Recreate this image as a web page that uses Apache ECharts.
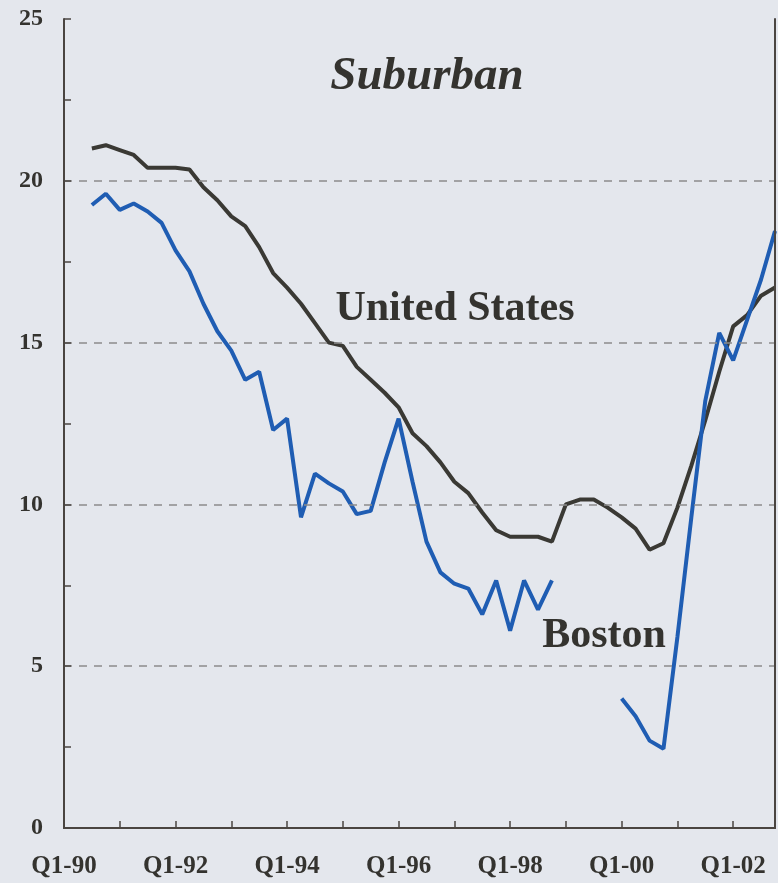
<!DOCTYPE html>
<html>
<head>
<meta charset="utf-8">
<script src="https://cdn.jsdelivr.net/npm/echarts@6/dist/echarts.min.js"></script>
<style>
  html, body { margin: 0; padding: 0; background: #e4e7ed; }
  #chart { width: 778px; height: 883px; }
</style>
</head>
<body>
<div id="chart"></div>
<script>
// quarters Q1-90 .. Q4-02
const quarters = [];
for (let y = 90; y <= 102; y++) {
  for (let q = 1; q <= 4; q++) {
    quarters.push('Q' + q + '-' + String(y % 100).padStart(2, '0'));
  }
}

// vacancy rate, suburban office (%)
const unitedStates = [
  null, null, 21.0, 21.1, 20.95, 20.8, 20.4, 20.4, 20.4, 20.35,
  19.8, 19.4, 18.9, 18.6, 17.95, 17.15, 16.7, 16.2, 15.6, 15.0,
  14.9, 14.25, 13.85, 13.45, 13.0, 12.2, 11.8, 11.3, 10.7, 10.35,
  9.75, 9.2, 9.0, 9.0, 9.0, 8.85, 10.0, 10.15, 10.15, 9.9,
  9.6, 9.25, 8.6, 8.8, 9.9, 11.2, 12.6, 14.1, 15.5, 15.85,
  16.45, 16.7
];
const boston = [
  null, null, 19.25, 19.6, 19.1, 19.3, 19.05, 18.7, 17.85, 17.2,
  16.2, 15.35, 14.75, 13.85, 14.1, 12.3, 12.65, 9.6, 10.95, 10.65,
  10.4, 9.7, 9.8, 11.3, 12.65, 10.7, 8.85, 7.9, 7.55, 7.4,
  6.6, 7.65, 6.1, 7.65, 6.75, 7.65, null, null, null, null,
  4.0, 3.45, 2.7, 2.45, 5.9, 9.6, 13.2, 15.3, 14.45, 15.7,
  16.95, 18.45
];

const yTicks = [0, 5, 10, 15, 20, 25];

const ink = '#34332f';
const font = '"Liberation Serif", "Times New Roman", serif';

const chart = echarts.init(document.getElementById('chart'));

chart.setOption({
  backgroundColor: '#e4e7ed',
  animation: false,
  grid: { left: 64, right: 3, top: 19, bottom: 55 },
  xAxis: [{
    type: 'category',
    data: quarters,
    boundaryGap: false,
    z: 5,
    axisLine: { lineStyle: { color: '#4a4541', width: 2 } },
    axisTick: {
      inside: true, length: 7,
      interval: (i) => i % 4 === 0,
      lineStyle: { color: '#4a4541', width: 1.5 }
    },
    axisLabel: {
      interval: (i) => i % 8 === 0,
      margin: 26,
      color: ink,
      fontFamily: font,
      fontWeight: 'bold',
      fontSize: 25
    },
    splitLine: { show: false }
  }, {
    type: 'category',
    data: quarters,
    boundaryGap: false,
    position: 'top',
    z: 5,
    axisLine: { lineStyle: { color: '#4a4541', width: 2 } },
    axisTick: { show: false },
    axisLabel: { show: false }
  }],
  yAxis: [{
    type: 'value',
    min: yTicks[0],
    max: yTicks[yTicks.length - 1],
    interval: 5,
    z: 5,
    axisLine: { show: true, lineStyle: { color: '#4a4541', width: 2 } },
    axisTick: { show: true, inside: true, length: 7, lineStyle: { color: '#4a4541', width: 1.5 } },
    minorTick: { show: true, splitNumber: 2, length: 7, lineStyle: { color: '#4a4541', width: 1.5 } },
    axisLabel: {
      margin: 21,
      color: ink,
      fontFamily: font,
      fontWeight: 'bold',
      fontSize: 24
    },
    splitLine: {
      show: true,
      showMinLine: false,
      showMaxLine: false,
      lineStyle: { color: '#8c8c8c', width: 1.5, type: [8, 7] }
    }
  }, {
    type: 'value',
    min: yTicks[0],
    max: yTicks[yTicks.length - 1],
    position: 'right',
    z: 5,
    axisLine: { show: true, lineStyle: { color: '#4a4541', width: 2 } },
    axisTick: { show: false },
    axisLabel: { show: false },
    splitLine: { show: false }
  }],
  series: [{
    name: 'United States',
    type: 'line',
    data: unitedStates,
    symbol: 'none',
    lineStyle: { color: '#3a3934', width: 4 },
    z: 3
  }, {
    name: 'Boston',
    type: 'line',
    data: boston,
    symbol: 'none',
    connectNulls: false,
    lineStyle: { color: '#1f5db3', width: 4 },
    z: 4
  }],
  graphic: [{
    type: 'text',
    x: 427, y: 77,
    style: {
      text: 'Suburban',
      fill: ink,
      font: 'italic bold 47px ' + font,
      align: 'center',
      verticalAlign: 'middle'
    }
  }, {
    type: 'text',
    x: 455, y: 309,
    style: {
      text: 'United States',
      fill: ink,
      font: 'bold 42px ' + font,
      align: 'center',
      verticalAlign: 'middle'
    }
  }, {
    type: 'text',
    x: 604, y: 636,
    style: {
      text: 'Boston',
      fill: ink,
      font: 'bold 42px ' + font,
      align: 'center',
      verticalAlign: 'middle'
    }
  }]
});
</script>
</body>
</html>
